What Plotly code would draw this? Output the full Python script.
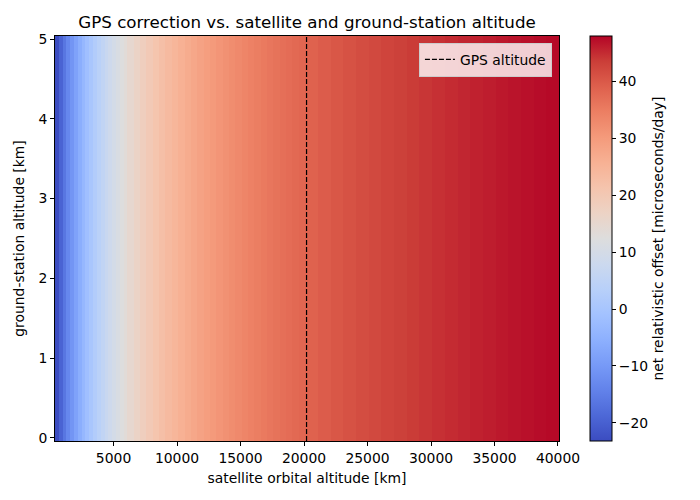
import plotly.graph_objects as go

# satellite orbital altitude column edges [km]
sat_edges = [390, 690, 990, 1290, 1590, 1890, 2190, 2490, 2790, 3090, 3390,
             3690, 3990, 4290, 4590, 4890, 5190, 5490, 5790, 6090,
             6590, 7090, 7590, 8090, 8590, 9090, 9590, 10090, 10590, 11090,
             11590, 12090, 12590, 13090, 13590, 14090, 14590, 15090, 15590,
             16090, 16590, 17090, 17590, 18090, 18590, 19090, 19590, 20090,
             21090, 22090, 23090, 24090,
             25090, 26090, 27090, 28090, 29090, 30090, 31090, 32090, 33090,
             34090, 35090, 36090, 37090, 38090, 39090, 40090]
# net relativistic offset per column [microseconds/day]
offset = [-23.03, -19.57, -16.38, -13.44, -10.72, -8.19, -5.84, -3.64, -1.59,
          0.34, 2.15, 3.85, 5.46, 6.98, 8.41, 9.77, 11.06, 12.29, 13.46,
          14.93, 16.64, 18.22, 19.70, 21.07, 22.36, 23.56, 24.69, 25.75,
          26.75, 27.69, 28.58, 29.43, 30.23, 30.99, 31.71, 32.39, 33.05,
          33.67, 34.27, 34.84, 35.38, 35.90, 36.41, 36.89, 37.35, 37.79,
          38.22,
          38.83, 39.59, 40.30, 40.96,
          41.58, 42.16, 42.71, 43.22, 43.71, 44.16, 44.59, 45.00, 45.39,
          45.76, 46.11, 46.45, 46.77, 47.07, 47.36, 47.64]
# ground-station altitude extent [km]
ground_edges = [-0.038, 5.038]
gps_altitude = 20200
cbar_ticks = [-20, -10, 0, 10, 20, 30, 40]
x_ticks = [5000, 10000, 15000, 20000, 25000, 30000, 35000, 40000]
x_labels = ["5000", "10000", "15000", "20000", "25000", "30000", "35000", "40000"]
y_ticks = [0, 1, 2, 3, 4, 5]

coolwarm = [
    [0.0, "rgb(59,76,192)"], [0.0625, "rgb(77,104,215)"],
    [0.125, "rgb(98,130,234)"], [0.1875, "rgb(119,154,247)"],
    [0.25, "rgb(141,176,254)"], [0.3125, "rgb(163,194,255)"],
    [0.375, "rgb(184,208,249)"], [0.4375, "rgb(204,217,238)"],
    [0.5, "rgb(221,221,221)"], [0.5625, "rgb(236,211,197)"],
    [0.625, "rgb(245,196,173)"], [0.6875, "rgb(247,177,148)"],
    [0.75, "rgb(244,154,123)"], [0.8125, "rgb(236,127,99)"],
    [0.875, "rgb(222,96,77)"], [0.9375, "rgb(203,62,56)"],
    [1.0, "rgb(180,4,38)"],
]

FONT = "DejaVu Sans"
L, R, T, B = 47, 149, 28, 67
fig = go.Figure()
fig.add_trace(go.Heatmap(
    x=sat_edges, y=ground_edges, z=[offset],
    colorscale=coolwarm, zmin=-23.2, zmax=48.0,
    showscale=True, hoverinfo="skip",
    colorbar=dict(
        x=(582 - L) / (700 - L - R), xanchor="left", y=0.5, yanchor="middle",
        len=1.0, lenmode="fraction", thickness=22, thicknessmode="pixels",
        outlinecolor="black", outlinewidth=1,
        tickvals=cbar_ticks, ticks="outside", ticklen=4, tickcolor="black",
        tickfont=dict(family=FONT, size=13.9, color="black"),
        title=dict(text="net relativistic offset [microseconds/day]",
                   side="right", font=dict(family=FONT, size=13.9, color="black")),
        xpad=0, ypad=0,
    ),
    showlegend=False,
))
fig.add_trace(go.Scatter(
    x=[gps_altitude, gps_altitude], y=[ground_edges[0], ground_edges[1]],
    mode="lines", line=dict(color="black", width=1.2, dash="5px,2px"),
    name="GPS altitude", showlegend=True, hoverinfo="skip",
))

fig.update_layout(
    width=700, height=500,
    margin=dict(l=L, r=R, t=T, b=B),
    paper_bgcolor="white", plot_bgcolor="white",
    font=dict(family=FONT, size=13.9, color="black"),
    title=dict(text="GPS correction vs. satellite and ground-station altitude",
               x=(L + 700 - R) / 2 / 700, xanchor="center", y=1 - 14 / 500, yanchor="middle",
               font=dict(family=FONT, size=16.7, color="black")),
    legend=dict(x=0.986, y=0.983, xanchor="right", yanchor="top",
                bgcolor="rgba(255,255,255,0.8)", bordercolor="rgb(204,204,204)",
                borderwidth=1, font=dict(family=FONT, size=13.9, color="black")),
    xaxis=dict(range=[390, 40080], tickvals=x_ticks, ticktext=x_labels,
               ticks="outside", ticklen=4,
               tickcolor="black", showgrid=False, zeroline=False,
               showline=True, linecolor="black", linewidth=1, mirror=True,
               title=dict(text="satellite orbital altitude [km]", standoff=8,
                          font=dict(family=FONT, size=13.9))),
    yaxis=dict(range=[ground_edges[0], ground_edges[1]], tickvals=y_ticks,
               ticks="outside", ticklen=4, tickcolor="black", showgrid=False,
               zeroline=False, showline=True, linecolor="black", linewidth=1,
               mirror=True,
               title=dict(text="ground-station altitude [km]", standoff=10,
                          font=dict(family=FONT, size=13.9))),
)

fig.write_html("out.html")
